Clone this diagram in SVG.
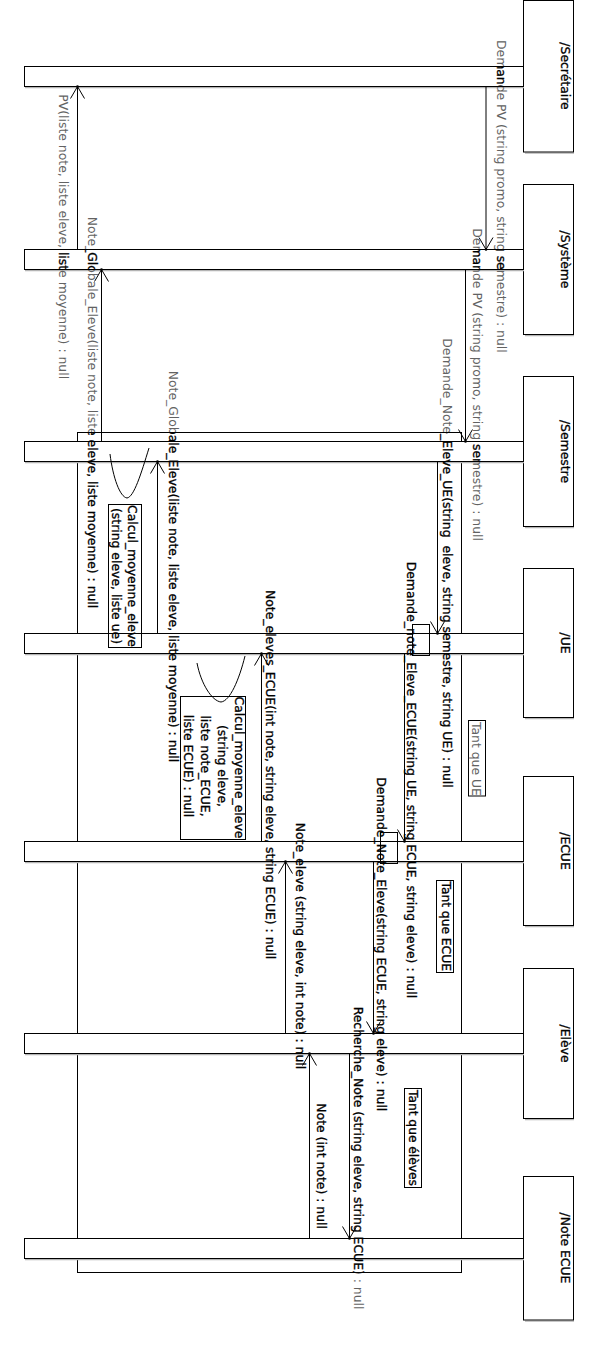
<svg xmlns="http://www.w3.org/2000/svg" width="598" height="1368" viewBox="0 0 598 1368">
<style>
  .box { fill: #fff; stroke: #000; stroke-width: 1; }
  .bar { fill: #fff; stroke: #000; stroke-width: 1; }
  .shadow { stroke: #b4b4b4; stroke-width: 1.2; fill: none; }
  .frame { fill: none; stroke: #000; stroke-width: 1; }
  .note { fill: none; stroke: #000; stroke-width: 1; }
  .msg { fill: none; stroke: #000; stroke-width: 1; marker-end: url(#arr); }
  .self { fill: none; stroke: #000; stroke-width: 1; }
  text { font-family: "DejaVu Sans", "Liberation Sans", sans-serif; font-size: 12.4px; }
  .hdr { fill: #000; stroke: #000; stroke-width: 0.3; text-anchor: middle; }
  .lbl { fill: url(#ink); stroke: url(#inkS); stroke-width: 0.25; }
  .mid { text-anchor: middle; }
</style>
<defs>
  <marker id="arr" markerUnits="userSpaceOnUse" viewBox="0 0 14 16" markerWidth="14" markerHeight="16" refX="13" refY="8" orient="auto" overflow="visible">
    <path d="M1,1 L13,8 L1,15" fill="none" stroke="#000" stroke-width="1"/>
    <circle cx="13" cy="8" r="1.3" fill="#000"/>
  </marker>
  <pattern id="ink" patternUnits="userSpaceOnUse" x="0" y="0" width="598" height="1368" patternTransform="rotate(-90)">
    <rect x="0" y="0" width="598" height="1368" fill="#626262"/>
    <rect x="77" y="432" width="385" height="841" fill="#000"/>
    <rect x="24" y="66" width="500" height="21" fill="#000"/>
    <rect x="24" y="249" width="500" height="21" fill="#000"/>
    <rect x="24" y="441" width="500" height="21" fill="#000"/>
    <rect x="24" y="633" width="500" height="21" fill="#000"/>
    <rect x="24" y="841" width="500" height="21" fill="#000"/>
    <rect x="24" y="1033" width="500" height="21" fill="#000"/>
    <rect x="24" y="1238" width="500" height="21" fill="#000"/>
  </pattern>
  <pattern id="inkS" patternUnits="userSpaceOnUse" x="0" y="0" width="598" height="1368" patternTransform="rotate(-90)">
    <rect x="77" y="432" width="385" height="841" fill="#000"/>
    <rect x="24" y="66" width="500" height="21" fill="#000"/>
    <rect x="24" y="249" width="500" height="21" fill="#000"/>
    <rect x="24" y="441" width="500" height="21" fill="#000"/>
    <rect x="24" y="633" width="500" height="21" fill="#000"/>
    <rect x="24" y="841" width="500" height="21" fill="#000"/>
    <rect x="24" y="1033" width="500" height="21" fill="#000"/>
    <rect x="24" y="1238" width="500" height="21" fill="#000"/>
  </pattern>
</defs>

<rect width="598" height="1368" fill="#fff"/>

<g id="loop-frame">
  <rect class="frame" x="77.5" y="432.5" width="384" height="840"/>
</g>

<g id="lifeline-secretaire">
  <line class="shadow" x1="525" y1="153.2" x2="574" y2="153.2"/>
  <rect class="box" x="523.5" y="0.5" width="50" height="151.5"/>
  <line class="shadow" x1="25" y1="87.6" x2="524" y2="87.6"/>
  <rect class="bar" x="24.5" y="66.5" width="499" height="20"/>
  <text class="hdr" transform="rotate(90)" x="76" y="-560.5">/Secrétaire</text>
</g>
<g id="lifeline-systeme">
  <line class="shadow" x1="525" y1="335.7" x2="574" y2="335.7"/>
  <rect class="box" x="523.5" y="184.5" width="50" height="150"/>
  <line class="shadow" x1="25" y1="270.6" x2="524" y2="270.6"/>
  <rect class="bar" x="24.5" y="249.5" width="499" height="20"/>
  <text class="hdr" transform="rotate(90)" x="259.5" y="-560.5">/Système</text>
</g>
<g id="lifeline-semestre">
  <line class="shadow" x1="525" y1="527.7" x2="574" y2="527.7"/>
  <rect class="box" x="523.5" y="376.5" width="50" height="150"/>
  <line class="shadow" x1="25" y1="462.6" x2="524" y2="462.6"/>
  <rect class="bar" x="24.5" y="441.5" width="499" height="20"/>
  <text class="hdr" transform="rotate(90)" x="451.5" y="-560.5">/Semestre</text>
</g>
<g id="lifeline-ue">
  <line class="shadow" x1="525" y1="718.7" x2="574" y2="718.7"/>
  <rect class="box" x="523.5" y="568.5" width="50" height="149"/>
  <line class="shadow" x1="25" y1="654.6" x2="524" y2="654.6"/>
  <rect class="bar" x="24.5" y="633.5" width="499" height="20"/>
  <text class="hdr" transform="rotate(90)" x="643" y="-560.5">/UE</text>
</g>
<g id="lifeline-ecue">
  <line class="shadow" x1="525" y1="926.7" x2="574" y2="926.7"/>
  <rect class="box" x="523.5" y="776.5" width="50" height="149"/>
  <line class="shadow" x1="25" y1="862.6" x2="524" y2="862.6"/>
  <rect class="bar" x="24.5" y="841.5" width="499" height="20"/>
  <text class="hdr" transform="rotate(90)" x="851" y="-560.5">/ECUE</text>
</g>
<g id="lifeline-eleve">
  <line class="shadow" x1="525" y1="1119.7" x2="574" y2="1119.7"/>
  <rect class="box" x="523.5" y="968.5" width="50" height="150"/>
  <line class="shadow" x1="25" y1="1054.6" x2="524" y2="1054.6"/>
  <rect class="bar" x="24.5" y="1033.5" width="499" height="20"/>
  <text class="hdr" transform="rotate(90)" x="1043.5" y="-560.5">/Elève</text>
</g>
<g id="lifeline-note-ecue">
  <line class="shadow" x1="525" y1="1321.2" x2="574" y2="1321.2"/>
  <rect class="box" x="523.5" y="1176.5" width="50" height="143.5"/>
  <line class="shadow" x1="25" y1="1259.6" x2="524" y2="1259.6"/>
  <rect class="bar" x="24.5" y="1238.5" width="499" height="20"/>
  <text class="hdr" transform="rotate(90)" x="1248" y="-560.5">/Note ECUE</text>
</g>

<g id="connectors">
  <path class="msg" d="M486,86.5 V249.5"/>
  <path class="msg" d="M77.5,249.5 V86.5"/>
  <path class="msg" d="M465.5,269.5 V441.5"/>
  <path class="msg" d="M101.5,441.5 V269.5"/>
  <path class="msg" d="M437.5,461.5 V633.5"/>
  <path class="msg" d="M157.5,633.5 V461.5"/>
  <path class="msg" d="M404.5,653.5 V841.5"/>
  <path class="msg" d="M261.5,841.5 V653.5"/>
  <path class="msg" d="M373.5,861.5 V1033.5"/>
  <path class="msg" d="M285.5,1033.5 V861.5"/>
  <path class="msg" d="M349.5,1053.5 V1238.5"/>
  <path class="msg" d="M309.5,1238.5 V1053.5"/>
  <path class="self" d="M110,454 C113,478 120,497 127,498 C134,497 141,474 149,448"/>
  <path class="self" d="M197,663 C201,684 212,701 221,702 C230,701 239,680 245,656"/>
</g>

<g id="activation-marks">
  <rect class="note" x="412.5" y="624.5" width="17" height="31"/>
  <rect class="note" x="380.5" y="832.5" width="17" height="31"/>
</g>

<g id="note-calcul-semestre">
  <rect class="note" x="108.5" y="504.5" width="33" height="143"/>
  <text class="lbl mid" transform="rotate(90)" x="576" y="-127.6">Calcul_moyenne_eleve</text>
  <text class="lbl mid" transform="rotate(90)" x="576" y="-112.3">(string eleve, liste ue)</text>
</g>
<g id="note-calcul-ue">
  <rect class="note" x="180.5" y="696.5" width="65" height="143"/>
  <text class="lbl mid" transform="rotate(90)" x="767.5" y="-235.3">Calcul_moyenne_eleve</text>
  <text class="lbl mid" transform="rotate(90)" x="766" y="-217.8">(string eleve,</text>
  <text class="lbl mid" transform="rotate(90)" x="766" y="-200.9">liste note_ECUE,</text>
  <text class="lbl mid" transform="rotate(90)" x="766" y="-184.2">liste ECUE) : null</text>
</g>
<g id="loop-ue">
  <rect class="note" x="468.5" y="720.5" width="17" height="75.5"/>
  <text class="lbl" transform="rotate(90)" x="722" y="-472">Tant que UE</text>
</g>
<g id="loop-ecue">
  <rect class="note" x="436.5" y="880.5" width="17" height="92"/>
  <text class="lbl" transform="rotate(90)" x="881.5" y="-441.8" textLength="89.5">Tant que ECUE</text>
</g>
<g id="loop-eleves">
  <rect class="note" x="404.5" y="1088.5" width="17" height="99"/>
  <text class="lbl" transform="rotate(90)" x="1090" y="-409" textLength="96">Tant que élèves</text>
</g>

<g id="message-labels" transform="rotate(90)">
  <text class="lbl" x="40" y="-497">Demande PV (string promo, string semestre) : null</text>
  <text class="lbl" x="94.3" y="-58.5">PV(liste note, liste eleve, liste moyenne) : null</text>
  <text class="lbl" x="228.3" y="-472.5">Demande PV (string promo, string semestre) : null</text>
  <text class="lbl" x="216.7" y="-88">Note_Globale_Eleve(liste note, liste eleve, liste moyenne) : null</text>
  <text class="lbl" x="338.3" y="-443" xml:space="preserve" style="white-space:pre">Demande_Note_Eleve_UE(string  eleve, string semestre, string UE) : null</text>
  <text class="lbl" x="370.7" y="-169">Note_Globale_Eleve(liste note, liste eleve, liste moyenne) : null</text>
  <text class="lbl" x="561.7" y="-407">Demande_note_Eleve_ECUE(string UE, string ECUE, string eleve) : null</text>
  <text class="lbl" x="590" y="-265.6">Note_eleves_ECUE(int note, string eleve, string ECUE) : null</text>
  <text class="lbl" x="777.3" y="-377.3">Demande_Note_Eleve(string ECUE, string eleve) : null</text>
  <text class="lbl" x="822.7" y="-296">Note_eleve (string eleve, int note) : null</text>
  <text class="lbl" x="1006.7" y="-354">Recherche_Note (string eleve, string ECUE) : null</text>
  <text class="lbl" x="1103.3" y="-316.8">Note (int note) : null</text>
</g>
</svg>
